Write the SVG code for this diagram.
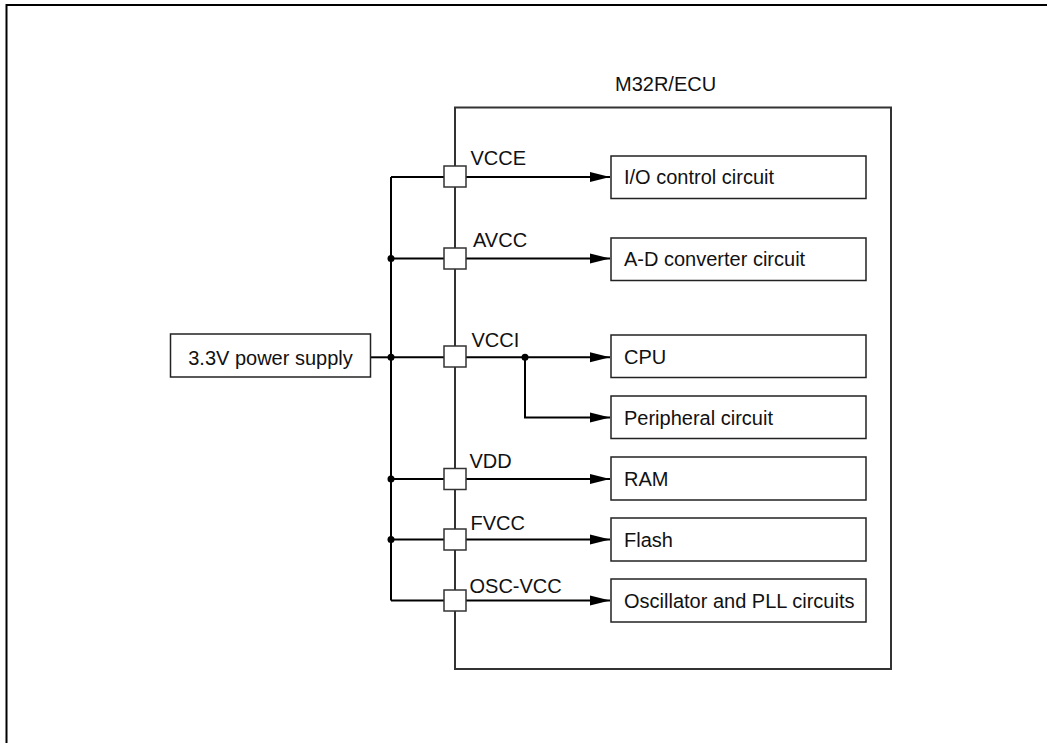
<svg xmlns="http://www.w3.org/2000/svg" width="1047" height="743" viewBox="0 0 1047 743">
<style>
text{font-family:"Liberation Sans",Arial,sans-serif;font-size:20px;fill:#111}
.box{fill:#fff;stroke:#222;stroke-width:1.5}
.pin{fill:#fff;stroke:#333;stroke-width:1.5}
.w{fill:none;stroke:#000;stroke-width:2}
.dot{fill:#000}
</style>
<defs>
<marker id="arr" markerUnits="userSpaceOnUse" markerWidth="20" markerHeight="12" refX="20" refY="6" orient="auto">
<path d="M0,1 L20,6 L0,11 Z" fill="#000"/>
</marker>
</defs>
<rect width="1047" height="743" fill="#fff"/>
<path d="M1050,5 H6.5 V750" fill="none" stroke="#000" stroke-width="2"/>
<g id="ecu">
<rect x="455" y="107.5" width="436" height="561.5" fill="none" stroke="#333" stroke-width="2"/>
<text x="615" y="90.5">M32R/ECU</text>
</g>
<g id="connectors">
<path class="w" d="M391,177 V600.5"/>
<path class="w" d="M371,357.3 H391"/>
<path class="w" d="M391,177 H444"/>
<path class="w" d="M391,258.5 H444"/>
<path class="w" d="M391,357.3 H444"/>
<path class="w" d="M391,479 H444"/>
<path class="w" d="M391,539.5 H444"/>
<path class="w" d="M391,600.5 H444"/>
<path class="w" d="M466,177 H610" marker-end="url(#arr)"/>
<path class="w" d="M466,258.5 H610" marker-end="url(#arr)"/>
<path class="w" d="M466,357.3 H610" marker-end="url(#arr)"/>
<path class="w" d="M525,357.3 V417.5 H610" marker-end="url(#arr)"/>
<path class="w" d="M466,479 H610" marker-end="url(#arr)"/>
<path class="w" d="M466,539.5 H610" marker-end="url(#arr)"/>
<path class="w" d="M466,600.5 H610" marker-end="url(#arr)"/>
<circle class="dot" cx="391" cy="258.5" r="3.5"/>
<circle class="dot" cx="391" cy="357.3" r="3.5"/>
<circle class="dot" cx="391" cy="479" r="3.5"/>
<circle class="dot" cx="391" cy="539.5" r="3.5"/>
<circle class="dot" cx="525" cy="357.3" r="3.5"/>
</g>
<g id="pin-vcce"><rect class="pin" x="444" y="166" width="22" height="21"/><text x="470.5" y="165">VCCE</text></g>
<g id="pin-avcc"><rect class="pin" x="444" y="248" width="22" height="21"/><text x="473" y="246.5">AVCC</text></g>
<g id="pin-vcci"><rect class="pin" x="444" y="346" width="22" height="21"/><text x="471.5" y="346.5">VCCI</text></g>
<g id="pin-vdd"><rect class="pin" x="444" y="468.5" width="22" height="21"/><text x="469.5" y="468">VDD</text></g>
<g id="pin-fvcc"><rect class="pin" x="444" y="529" width="22" height="21"/><text x="470.5" y="530">FVCC</text></g>
<g id="pin-oscvcc"><rect class="pin" x="444" y="590" width="22" height="21"/><text x="469.5" y="593">OSC-VCC</text></g>
<g id="power"><rect class="box" x="170.5" y="334" width="200" height="43"/><text x="270.5" y="364.5" text-anchor="middle">3.3V power supply</text></g>
<g id="io"><rect class="box" x="611" y="156" width="255" height="42.5"/><text x="624" y="184">I/O control circuit</text></g>
<g id="adc"><rect class="box" x="611" y="238" width="255" height="42.5"/><text x="624" y="265.5">A-D converter circuit</text></g>
<g id="cpu"><rect class="box" x="611" y="335" width="255" height="42.5"/><text x="624" y="364">CPU</text></g>
<g id="periph"><rect class="box" x="611" y="396" width="255" height="42.5"/><text x="624" y="425">Peripheral circuit</text></g>
<g id="ram"><rect class="box" x="611" y="457" width="255" height="43"/><text x="624" y="486">RAM</text></g>
<g id="flash"><rect class="box" x="611" y="518" width="255" height="43"/><text x="624" y="547">Flash</text></g>
<g id="osc"><rect class="box" x="611" y="579" width="255" height="43"/><text x="624" y="608">Oscillator and PLL circuits</text></g>
</svg>
